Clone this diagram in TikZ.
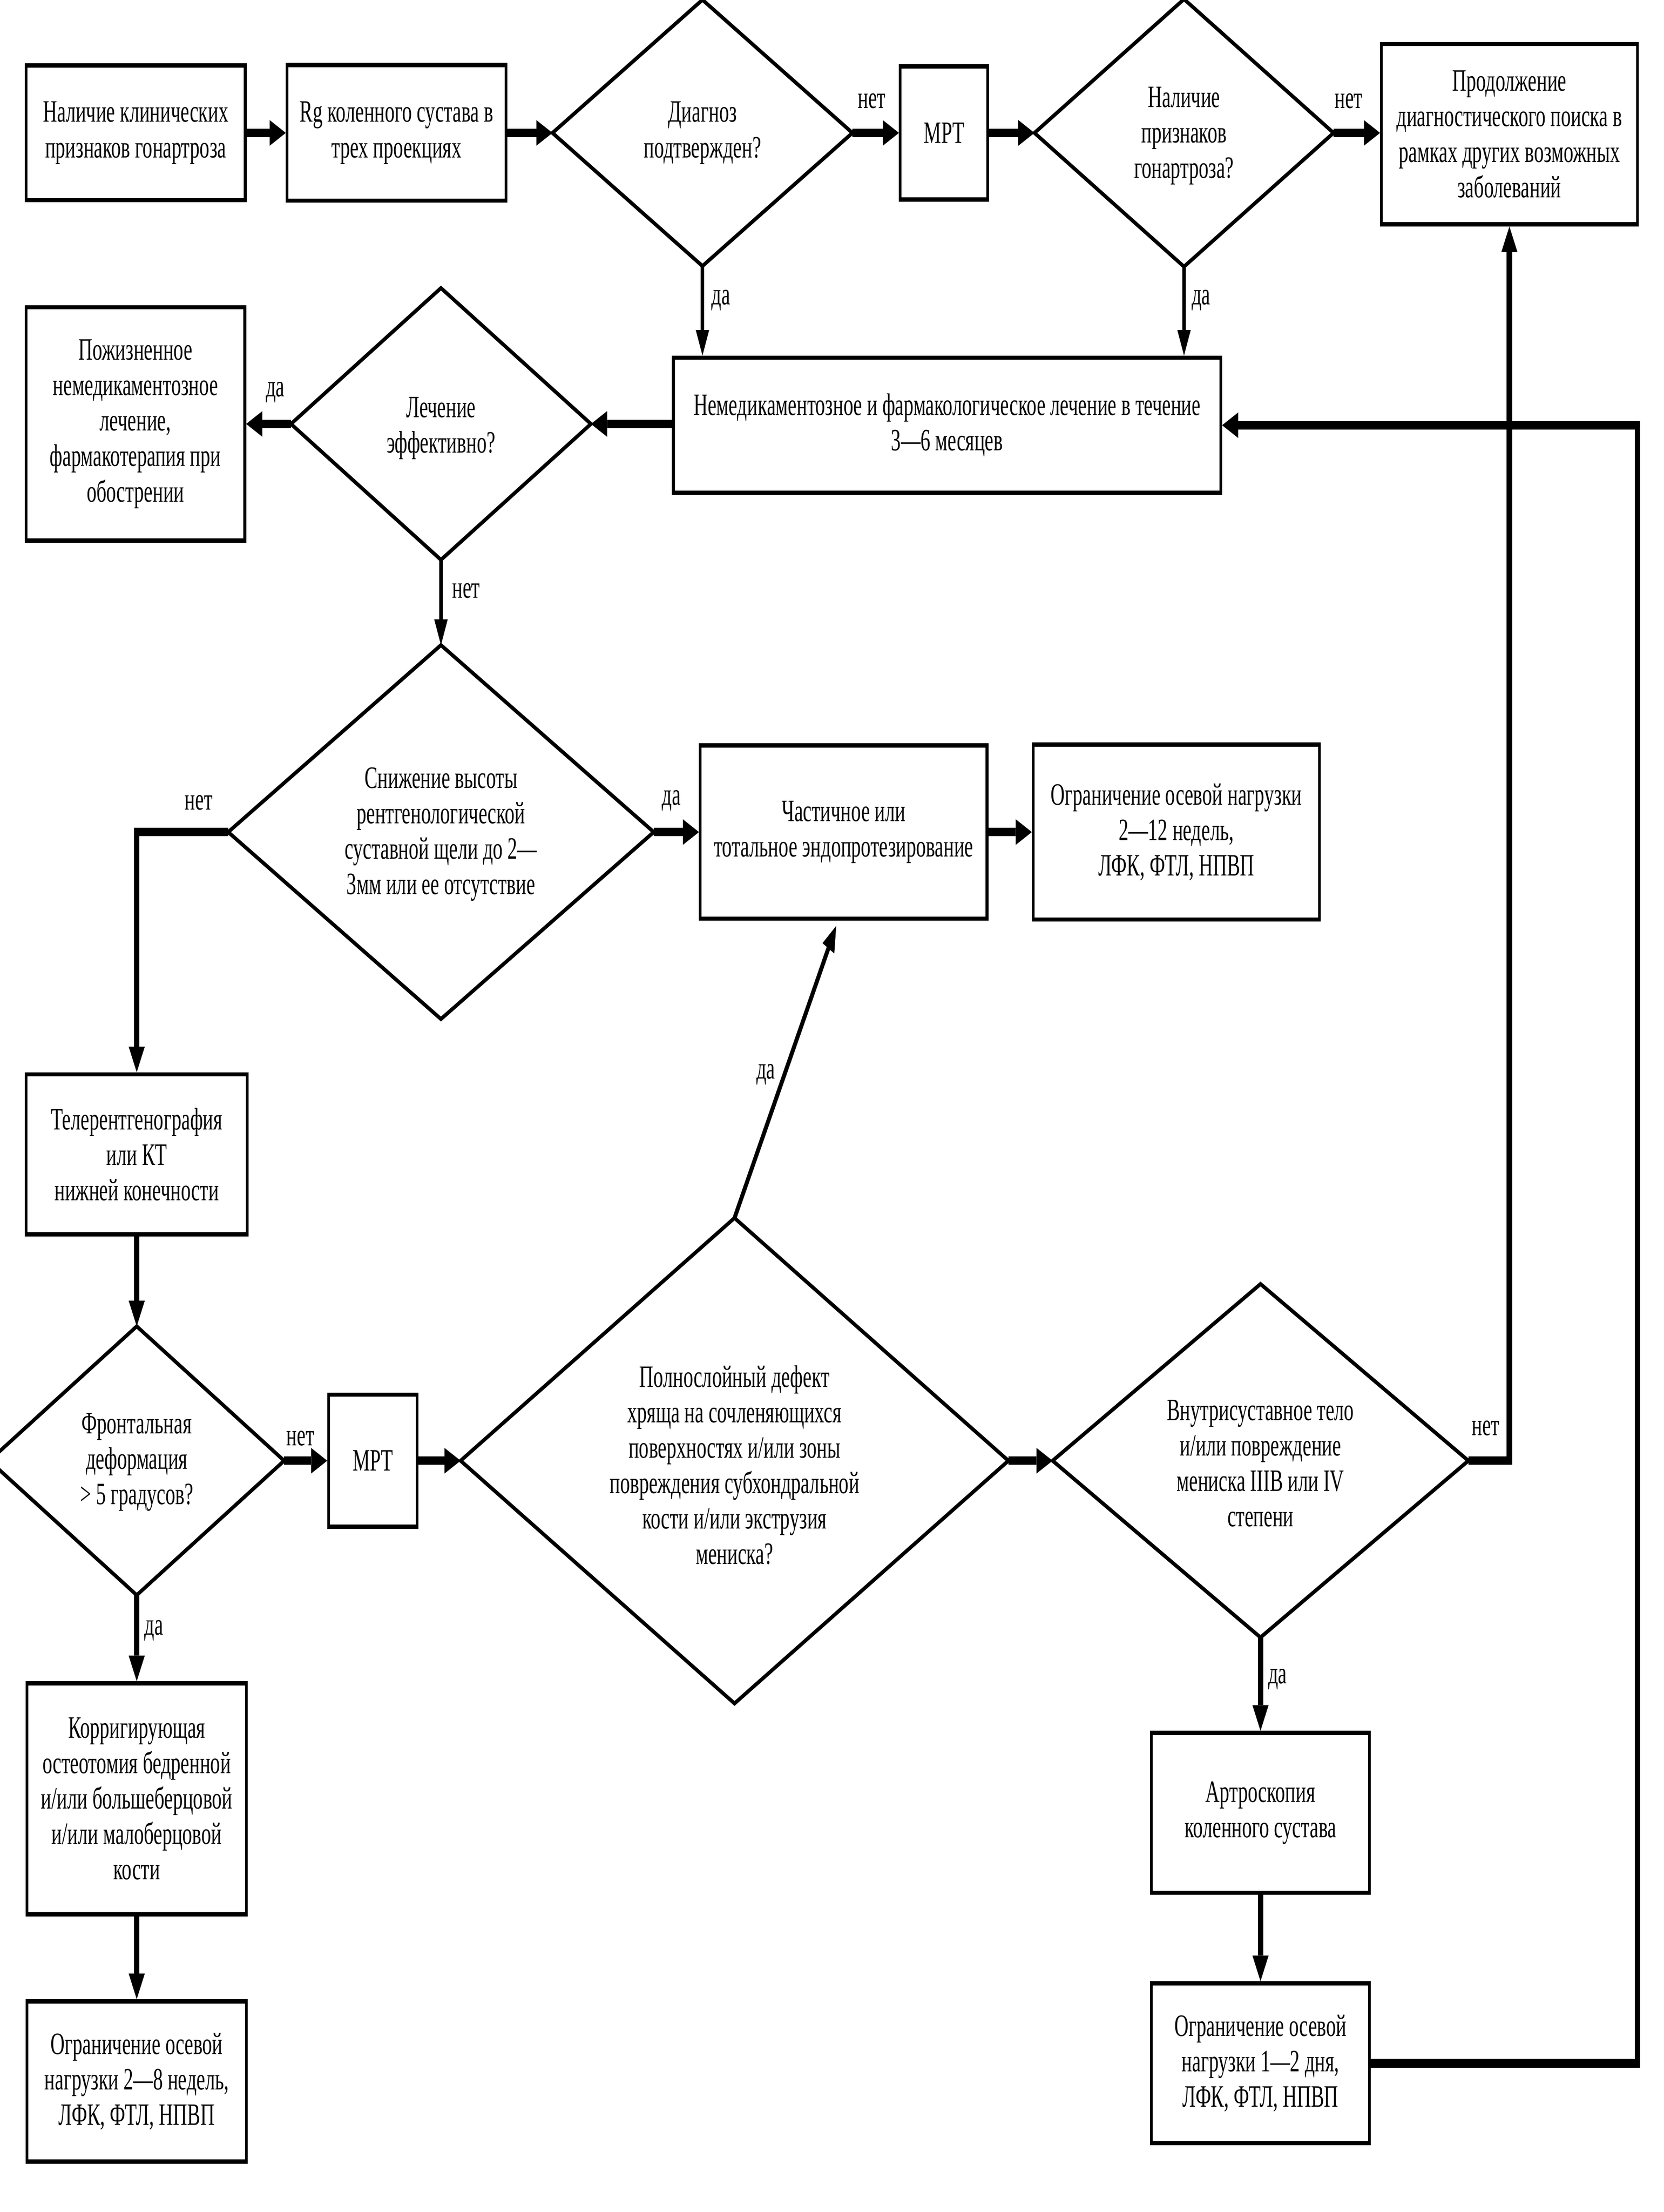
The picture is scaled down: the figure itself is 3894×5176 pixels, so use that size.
\documentclass[tikz,border=0pt]{standalone}
\usepackage{fontspec}
\setmainfont{Liberation Serif}
\usetikzlibrary{arrows.meta,shapes.geometric,calc}
\begin{document}
\begin{tikzpicture}[x=0.1mm,y=-0.1mm]
\path[use as bounding box,fill=white] (0,0) rectangle (3894,5176);
\begin{scope}[transform canvas={xscale=0.63}, x=0.15873mm, y=-0.1mm,
  txt/.style={font=\fontsize{20.7}{23.6}\selectfont, align=center},
  box/.style 2 args={txt, draw, line width=1mm, rectangle, inner sep=0pt,
     minimum width={#1*0.15873mm}, minimum height={#2*0.1mm}},
  dia/.style 2 args={draw, diamond, line width=1mm, inner sep=0pt, outer sep=0pt,
     minimum width={#1*0.15873mm}, minimum height={#2*0.1mm}},
  lbl/.style={txt, inner sep=0pt},
  hc/.style={line width=2mm, -{Triangle[length=6mm,width=6mm,line width=0pt]}},
  tc/.style={line width=1.4mm, -{Triangle[length=6mm,width=5mm,line width=0pt]}}]

% ---- row 1
\node[box={513}{315}] (A) at (317.5,311) {Наличие клинических\\признаков гонартроза};
\node[box={512}{317}] (B) at (928,311) {Rg коленного сустава в\\трех проекциях};
\node[dia={702}{623}] (D1) at (1644,311) {};
\node[txt] (D1t) at (1644,311) {Диагноз\\подтвержден?};
\node[box={205}{312}] (M1) at (2209.5,311) {МРТ};
\node[dia={700}{626}] (D2) at (2771,311) {};
\node[txt] (D2t) at (2771,318) {Наличие\\признаков\\гонартроза?};
\node[box={599}{422}] (P) at (3532.5,314) {Продолжение\\диагностического поиска в\\рамках других возможных\\заболеваний};

% ---- row 2
\node[box={512}{546}] (Q) at (317,992) {Пожизненное\\немедикаментозное\\лечение,\\фармакотерапия при\\обострении};
\node[dia={702}{636}] (D3) at (1032,992) {};
\node[txt] (D3t) at (1032,1002) {Лечение\\эффективно?};
\node[box={1281}{316}] (N) at (2216.5,995) {Немедикаментозное и фармакологическое лечение в течение\\3—6 месяцев};

% ---- row 3
\node[dia={996}{875}] (D4) at (1032,1947) {};
\node[txt] (D4t) at (1032,1952) {Снижение высоты\\рентгенологической\\суставной щели до 2—\\3мм или ее отсутствие};
\node[box={671}{405}] (E) at (1974.5,1947) {Частичное или\\тотальное эндопротезирование};
\node[box={670}{409}] (F) at (2753,1947) {Ограничение осевой нагрузки\\2—12 недель,\\ЛФК, ФТЛ, НПВП};
\node[box={517}{374}] (T) at (320,2701) {Телерентгенография\\или КТ\\нижней конечности};

% ---- row 4
\node[dia={690}{629}] (D6) at (320,3418) {};
\node[txt] (D6t) at (320,3421) {Фронтальная\\деформация\\> 5 градусов?};
\node[box={207}{309}] (M2) at (872.5,3418) {МРТ};
\node[dia={1282}{1136}] (D5) at (1719,3418) {};
\node[txt] (D5t) at (1719,3428) {Полнослойный дефект\\хряща на сочленяющихся\\поверхностях и/или зоны\\повреждения субхондральной\\кости и/или экструзия\\мениска?};
\node[dia={973}{827}] (D7) at (2950,3418) {};
\node[txt] (D7t) at (2950,3424) {Внутрисуставное тело\\и/или повреждение\\мениска IIIB или IV\\степени};

% ---- bottom
\node[box={513}{540}] (K) at (320,4209) {Корригирующая\\остеотомия бедренной\\и/или большеберцовой\\и/или малоберцовой\\кости};
\node[box={513}{375}] (L) at (320,4870.5) {Ограничение осевой\\нагрузки 2—8 недель,\\ЛФК, ФТЛ, НПВП};
\node[box={510}{374}] (AR) at (2950,4242) {Артроскопия\\коленного сустава};
\node[box={510}{374}] (O) at (2950,4828) {Ограничение осевой\\нагрузки 1—2 дня,\\ЛФК, ФТЛ, НПВП};

% ---- connectors
\draw[hc] (A.east) -- (B.west);
\draw[hc] (B.east) -- (D1.west);
\draw[hc] (D1.east) -- (M1.west);
\draw[hc] (M1.east) -- (D2.west);
\draw[hc] (D2.east) -- (D2.east -| P.west);
\draw[tc] (D1.south) -- (D1.south |- N.north);
\draw[tc] (D2.south) -- (D2.south |- N.north);
\draw[hc] (N.west |- D3.east) -- (D3.east);
\draw[hc] (D3.west) -- (D3.west -| Q.east);
\draw[tc] (D3.south) -- (D4.north);
\draw[hc] (D4.east) -- (D4.east -| E.west);
\draw[hc] (E.east) -- (F.west);
\draw[hc] (D4.west) -| (T.north);
\draw[hc] (T.south) -- (D6.north);
\draw[hc] (D6.east) -- (M2.west);
\draw[hc] (M2.east) -- (D5.west);
\draw[hc] (D5.east) -- (D7.west);
\draw[tc] (D5.north) -- ([shift={(-17.5,12)}]E.south);
\draw[hc] (D7.east) -| (P.south);
\draw[hc] (D6.south) -- (K.north);
\draw[hc] (K.south) -- (L.north);
\draw[hc] (D7.south) -- (AR.north);
\draw[hc] (AR.south) -- (O.north);
\coordinate (R1) at (3832,4828);
\draw[hc] (O.east) -- (R1) |- (N.east);

% ---- labels
\node[lbl] (l1) at (2040,236) {нет};
\node[lbl] (l2) at (3156,236) {нет};
\node[lbl] (l3) at (1687,703) {да};
\node[lbl] (l4) at (2811,703) {да};
\node[lbl] (l5) at (644,918) {да};
\node[lbl] (l6) at (1091,1382) {нет};
\node[lbl] (l7) at (465,1878) {нет};
\node[lbl] (l8) at (1571,1873) {да};
\node[lbl] (l9) at (1792,2514) {да};
\node[lbl] (l10) at (703,3366) {нет};
\node[lbl] (l11) at (360,3815) {да};
\node[lbl] (l12) at (3477,3342) {нет};
\node[lbl] (l13) at (2990,3929) {да};
\end{scope}
\end{tikzpicture}
\end{document}
